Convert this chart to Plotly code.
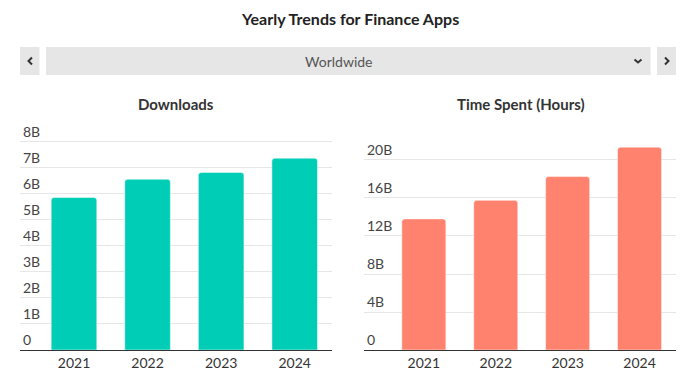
import plotly.graph_objects as go

years = ["2021", "2022", "2023", "2024"]
downloads_b = [5.86, 6.56, 6.82, 7.37]
time_spent_b = [13.8, 15.75, 18.25, 21.35]
dl_tickvals = [0, 1, 2, 3, 4, 5, 6, 7, 8]
dl_ticktext = ["0", "1B", "2B", "3B", "4B", "5B", "6B", "7B", "8B"]
ts_tickvals = [0, 4, 8, 12, 16, 20]
ts_ticktext = ["0", "4B", "8B", "12B", "16B", "20B"]

# page body has an 8px margin; the figure is sized to fill the rest of the window
OFF = 8
W, H = 700 - OFF, 387 - OFF
def px(x):
    return (x - OFF) / W
def py(y):
    return (H - (y - OFF)) / H

FONT = "Source Sans Pro, Lato, Noto Sans, sans-serif"
TEAL = "#00cdb6"
SALMON = "#ff826e"

fig = go.Figure()
fig.add_trace(go.Bar(x=years, y=downloads_b, marker=dict(color=TEAL, cornerradius=3,
                     line=dict(color="rgba(255,255,255,0.5)", width=1)),
                     width=0.62, xaxis="x", yaxis="y", hoverinfo="x+y"))
fig.add_trace(go.Bar(x=years, y=time_spent_b, marker=dict(color=SALMON, cornerradius=3,
                     line=dict(color="rgba(255,255,255,0.5)", width=1)),
                     width=0.613, xaxis="x2", yaxis="y2", hoverinfo="x+y"))

# y domain extended 20px above the top gridline so the top tick label is kept
ybot, ytop = py(350), py(121.7)
common_x = dict(type="category", showline=True, linecolor="#333333", linewidth=1,
                ticks="", showgrid=False, tickfont=dict(size=14, color="#333333", family=FONT))
common_y = dict(showgrid=True, gridcolor="#e6e6e6", gridwidth=1, zeroline=False,
                showline=False, ticks="", ticklabelposition="inside top",
                tickfont=dict(size=14, color="#444444", family=FONT))

fig.update_layout(
    width=W, height=H, margin=dict(l=0, r=0, t=0, b=0),
    paper_bgcolor="white", plot_bgcolor="white", showlegend=False,
    font=dict(family=FONT),
    xaxis=dict(domain=[px(20), px(332)], range=[-0.734, 3.507], anchor="y", **common_x),
    yaxis=dict(domain=[ybot, ytop], range=[0, 8.77], anchor="x",
               tickvals=dl_tickvals, ticktext=dl_ticktext, **common_y),
    xaxis2=dict(domain=[px(364), px(676)], range=[-0.8325, 3.507], anchor="y2", **common_x),
    yaxis2=dict(domain=[ybot, ytop], range=[0, 24.03], anchor="x2",
                tickvals=ts_tickvals, ticktext=ts_ticktext, **common_y),
)

ann = [
    dict(text="<b>Yearly Trends for Finance Apps</b>", x=px(350), y=py(18.5),
         font=dict(size=16, color="#222222")),
    dict(text="<b>Downloads</b>", x=px(176), y=py(104), font=dict(size=15, color="#333333")),
    dict(text="<b>Time Spent (Hours)</b>", x=px(521), y=py(104), font=dict(size=15, color="#333333")),
    dict(text="Worldwide", x=px(338), y=py(61.5), font=dict(size=14, color="#555555")),
]
for a in ann:
    a.update(xref="paper", yref="paper", xanchor="center", yanchor="middle", showarrow=False)
    a["font"]["family"] = FONT
fig.update_layout(annotations=ann)

def rect(x0, y0, x1, y1):
    return dict(type="rect", xref="paper", yref="paper", x0=px(x0), x1=px(x1),
                y0=py(y1), y1=py(y0), fillcolor="#e6e6e6", line=dict(width=0), layer="below")

def chevron(pts):
    d = "M " + " L ".join(f"{px(a):.5f},{py(b):.5f}" for a, b in pts)
    return dict(type="path", xref="paper", yref="paper", path=d,
                line=dict(color="#333333", width=2))

shapes = [
    rect(20, 47, 39.5, 75),
    rect(46, 47, 650.5, 75),
    rect(657, 47, 676, 75),
    chevron([(32, 57.5), (28.5, 61), (32, 64.5)]),
    chevron([(665, 57.5), (668.5, 61), (665, 64.5)]),
    chevron([(634.5, 59.5), (638, 62.5), (641.5, 59.5)]),
]
fig.update_layout(shapes=shapes)

fig.write_html("out.html")
